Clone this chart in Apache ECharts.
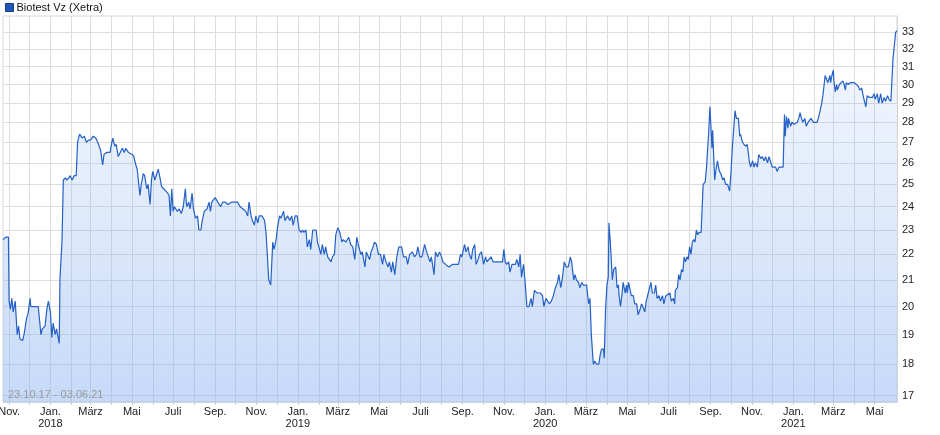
<!DOCTYPE html>
<html>
<head>
<meta charset="utf-8">
<script src="https://cdn.jsdelivr.net/npm/echarts@6/dist/echarts.min.js"></script>
<style>html,body{margin:0;padding:0;background:#fff}#c{width:940px;height:435px}</style>
</head>
<body>
<div id="c"></div>
<script>
var seriesName = 'Biotest Vz (Xetra)';
var rangeText = '23.10.17 - 03.06.21';

var dates = [
'2017-10-23','2017-10-27','2017-10-31','2017-11-01','2017-11-03','2017-11-05','2017-11-07','2017-11-10','2017-11-13','2017-11-15','2017-11-17','2017-11-21','2017-11-23','2017-11-27','2017-11-29','2017-12-02','2017-12-03','2017-12-14','2017-12-18','2017-12-20','2017-12-24','2017-12-27','2017-12-29',
'2018-01-01','2018-01-03','2018-01-05','2018-01-08','2018-01-10','2018-01-14','2018-01-15','2018-01-18','2018-01-20','2018-01-23','2018-01-25','2018-01-28','2018-01-30','2018-02-02','2018-02-05','2018-02-08','2018-02-10','2018-02-13','2018-02-15','2018-02-17','2018-02-20','2018-02-23','2018-02-26',
'2018-03-01','2018-03-05','2018-03-09','2018-03-13','2018-03-16','2018-03-19','2018-03-21','2018-03-25','2018-03-30','2018-04-01','2018-04-03','2018-04-06','2018-04-08','2018-04-11','2018-04-14','2018-04-17','2018-04-20','2018-04-22','2018-04-26','2018-04-28',
'2018-05-02','2018-05-04','2018-05-07','2018-05-09','2018-05-13','2018-05-15','2018-05-18','2018-05-20','2018-05-23','2018-05-25','2018-05-28','2018-05-30','2018-06-01','2018-06-04','2018-06-06','2018-06-09','2018-06-11','2018-06-14','2018-06-17','2018-06-20','2018-06-23','2018-06-25','2018-06-27','2018-06-29',
'2018-07-01','2018-07-03','2018-07-07','2018-07-10','2018-07-13','2018-07-16','2018-07-19','2018-07-21','2018-07-24','2018-07-26','2018-07-29','2018-07-31','2018-08-03','2018-08-06','2018-08-08','2018-08-11','2018-08-13','2018-08-16','2018-08-20','2018-08-23','2018-08-25','2018-08-27','2018-08-29',
'2018-09-01','2018-09-05','2018-09-09','2018-09-12','2018-09-16','2018-09-20','2018-09-25','2018-09-29','2018-10-04','2018-10-08','2018-10-12','2018-10-16','2018-10-19','2018-10-21','2018-10-24','2018-10-26','2018-10-29','2018-10-31',
'2018-11-03','2018-11-05','2018-11-09','2018-11-13','2018-11-15','2018-11-17','2018-11-19','2018-11-22','2018-11-25','2018-11-27','2018-11-30','2018-12-02','2018-12-05','2018-12-07','2018-12-11','2018-12-13','2018-12-17','2018-12-20','2018-12-23','2018-12-25','2018-12-28','2018-12-31',
'2019-01-03','2019-01-06','2019-01-08','2019-01-10','2019-01-13','2019-01-15','2019-01-18','2019-01-20','2019-01-23','2019-01-25','2019-01-28','2019-01-30','2019-02-01','2019-02-04','2019-02-06','2019-02-09','2019-02-11','2019-02-14','2019-02-16','2019-02-19','2019-02-21','2019-02-24','2019-02-26',
'2019-03-01','2019-03-04','2019-03-07','2019-03-09','2019-03-13','2019-03-17','2019-03-20','2019-03-23','2019-03-26','2019-03-29','2019-03-31','2019-04-04','2019-04-06','2019-04-10','2019-04-12','2019-04-15','2019-04-17','2019-04-19','2019-04-22','2019-04-24','2019-04-27','2019-04-30',
'2019-05-03','2019-05-06','2019-05-08','2019-05-11','2019-05-14','2019-05-16','2019-05-19','2019-05-21','2019-05-24','2019-05-27','2019-05-30','2019-06-03','2019-06-06','2019-06-10','2019-06-12','2019-06-15','2019-06-19','2019-06-22','2019-06-25','2019-06-27','2019-06-30',
'2019-07-03','2019-07-04','2019-07-07','2019-07-10','2019-07-12','2019-07-15','2019-07-17','2019-07-21','2019-07-23','2019-07-26','2019-07-29','2019-08-01','2019-08-03','2019-08-07','2019-08-12','2019-08-17','2019-08-22','2019-08-26','2019-08-29','2019-08-31',
'2019-09-04','2019-09-06','2019-09-09','2019-09-11','2019-09-14','2019-09-16','2019-09-19','2019-09-21','2019-09-24','2019-09-26','2019-09-29','2019-10-02','2019-10-05','2019-10-07','2019-10-09','2019-10-13','2019-10-16','2019-10-19','2019-10-23','2019-10-27','2019-10-30',
'2019-11-01','2019-11-03','2019-11-05','2019-11-08','2019-11-10','2019-11-13','2019-11-15','2019-11-18','2019-11-20','2019-11-23','2019-11-25','2019-11-27','2019-11-30','2019-12-02','2019-12-05','2019-12-08','2019-12-11','2019-12-13','2019-12-16','2019-12-20','2019-12-25','2019-12-28','2019-12-30',
'2020-01-02','2020-01-04','2020-01-07','2020-01-10','2020-01-13','2020-01-16','2020-01-19','2020-01-21','2020-01-24','2020-01-27','2020-01-29','2020-02-01','2020-02-04','2020-02-07','2020-02-09','2020-02-12','2020-02-14','2020-02-16','2020-02-19','2020-02-21','2020-02-24','2020-02-26',
'2020-03-02','2020-03-05','2020-03-07','2020-03-09','2020-03-12','2020-03-14','2020-03-17','2020-03-20','2020-03-22','2020-03-24','2020-03-27','2020-03-28','2020-03-30','2020-04-01','2020-04-03','2020-04-04','2020-04-06','2020-04-09','2020-04-11','2020-04-14','2020-04-16','2020-04-18','2020-04-19','2020-04-21','2020-04-23','2020-04-25','2020-04-28','2020-04-30',
'2020-05-01','2020-05-03','2020-05-05','2020-05-07','2020-05-10','2020-05-12','2020-05-15','2020-05-17','2020-05-20','2020-05-22','2020-05-24','2020-05-27','2020-05-29','2020-06-01','2020-06-03','2020-06-05','2020-06-07','2020-06-10','2020-06-12','2020-06-14','2020-06-17','2020-06-19','2020-06-22','2020-06-24','2020-06-27','2020-06-29',
'2020-07-03','2020-07-05','2020-07-08','2020-07-10','2020-07-11','2020-07-14','2020-07-16','2020-07-18','2020-07-20','2020-07-22','2020-07-24','2020-07-26','2020-07-28','2020-07-30','2020-08-01','2020-08-03','2020-08-05','2020-08-07','2020-08-09','2020-08-11','2020-08-13','2020-08-15','2020-08-18','2020-08-20','2020-08-21','2020-08-24','2020-08-26','2020-08-29','2020-08-31',
'2020-09-01','2020-09-03','2020-09-04','2020-09-07','2020-09-09','2020-09-11','2020-09-14','2020-09-16','2020-09-19','2020-09-21','2020-09-23','2020-09-26','2020-09-28','2020-09-29','2020-10-01','2020-10-03','2020-10-07','2020-10-09','2020-10-12','2020-10-14','2020-10-15','2020-10-18','2020-10-20','2020-10-23','2020-10-25','2020-10-28','2020-10-30',
'2020-11-02','2020-11-04','2020-11-06','2020-11-09','2020-11-11','2020-11-14','2020-11-16','2020-11-19','2020-11-21','2020-11-24','2020-11-26','2020-11-28','2020-12-01','2020-12-03','2020-12-06','2020-12-08','2020-12-11','2020-12-14','2020-12-17','2020-12-19','2020-12-20','2020-12-22','2020-12-24','2020-12-25','2020-12-28','2020-12-30',
'2021-01-02','2021-01-04','2021-01-07','2021-01-09','2021-01-11','2021-01-13','2021-01-15','2021-01-18','2021-01-20','2021-01-23','2021-01-25','2021-01-27','2021-01-31','2021-02-02','2021-02-05','2021-02-07','2021-02-09','2021-02-12','2021-02-14','2021-02-16','2021-02-17','2021-02-19','2021-02-21','2021-02-24','2021-02-25','2021-02-27',
'2021-03-01','2021-03-02','2021-03-04','2021-03-06','2021-03-07','2021-03-10','2021-03-12','2021-03-15','2021-03-17','2021-03-19','2021-03-20','2021-03-23','2021-03-26','2021-03-28','2021-04-01','2021-04-04','2021-04-07','2021-04-09','2021-04-12','2021-04-14','2021-04-16','2021-04-18','2021-04-20','2021-04-23','2021-04-25','2021-04-28','2021-04-30',
'2021-05-02','2021-05-05','2021-05-07','2021-05-10','2021-05-12','2021-05-15','2021-05-17','2021-05-20','2021-05-22','2021-05-25','2021-05-28','2021-06-01','2021-06-03'
];

var prices = [
22.6,22.7,22.7,20.2,19.9,20.3,19.8,20.2,19.0,19.3,18.85,18.8,19.0,19.6,19.75,20.3,20.0,20.0,19.0,19.2,19.3,19.95,20.2,
19.8,18.9,19.4,19.0,19.2,18.7,21.0,22.5,25.2,25.3,25.2,25.3,25.4,25.2,25.4,25.4,27.0,27.4,27.5,27.2,27.3,27.0,27.1,
27.1,27.3,27.2,26.9,26.6,25.9,26.4,26.5,26.5,26.9,27.2,26.8,26.9,26.3,26.5,26.7,26.5,26.7,26.5,26.5,
26.4,26.3,25.9,25.7,24.5,25.0,25.5,25.4,24.8,25.0,24.1,25.2,25.6,25.2,25.2,25.7,25.4,24.9,24.8,24.7,24.6,24.5,23.6,24.8,
23.8,24.0,23.8,23.9,23.7,24.0,24.8,24.0,24.2,23.9,24.6,23.9,23.5,23.6,23.0,23.0,23.4,23.8,23.9,24.2,23.8,24.2,24.2,
24.4,24.2,24.0,24.2,24.2,24.1,24.2,24.2,24.2,24.0,23.9,23.8,23.6,24.2,23.6,23.4,23.2,23.6,
23.3,23.6,23.6,23.4,22.9,22.0,21.0,20.8,22.5,22.2,22.6,23.1,23.6,23.5,23.8,23.4,23.6,23.4,23.6,23.2,23.6,23.6,
23.0,22.9,23.0,22.9,23.0,22.3,22.6,22.2,23.0,23.0,23.0,22.5,22.3,22.0,22.4,22.0,22.3,21.9,21.9,21.7,21.9,22.0,22.8,
23.1,22.9,22.5,22.6,22.5,22.7,22.4,22.3,21.8,22.7,22.4,22.0,22.1,21.5,22.1,21.9,21.8,22.1,22.3,22.5,22.4,22.0,
22.0,21.6,22.0,21.7,21.5,21.7,21.3,21.7,21.2,21.9,22.3,22.3,21.9,21.9,21.6,22.0,22.1,21.9,22.0,22.3,21.9,
21.9,22.0,22.4,22.1,22.1,21.7,21.9,21.2,22.1,21.9,22.1,21.9,21.7,21.6,21.5,21.6,21.6,21.6,22.0,21.9,
22.4,22.1,22.3,22.0,21.8,22.2,22.4,21.6,21.8,22.0,22.1,21.6,21.9,21.7,21.7,21.9,21.7,21.7,21.7,21.7,21.7,
22.2,21.7,21.6,21.7,21.3,21.6,21.6,21.6,21.8,21.5,22.0,21.1,21.6,21.0,20.0,20.0,20.3,20.0,20.6,20.5,20.5,20.4,20.0,
20.3,20.3,20.1,20.2,20.4,20.7,20.9,21.2,20.7,21.2,21.7,21.5,21.5,21.9,21.7,21.0,21.2,21.0,20.9,20.7,20.9,20.8,
20.8,20.1,20.3,19.0,18.0,18.1,18.0,18.0,18.3,18.5,18.5,18.2,19.9,20.8,21.1,23.3,22.5,21.0,21.4,21.5,20.7,20.8,20.4,20.0,20.4,20.9,20.5,20.8,
20.5,20.9,20.9,20.4,20.4,20.1,20.1,19.7,19.9,20.1,20.0,19.8,20.2,20.5,20.7,20.9,20.5,20.5,20.8,20.3,20.4,20.2,20.4,20.1,20.4,20.4,
20.5,20.2,20.3,20.1,20.6,20.7,21.2,21.0,21.4,21.3,21.9,21.7,21.9,21.8,22.3,22.0,22.5,22.6,22.5,23.0,22.8,22.9,22.9,22.9,25.0,25.1,25.8,27.4,28.8,
28.1,26.7,27.6,25.2,25.7,26.1,25.6,25.5,25.2,25.3,25.0,25.0,25.0,24.7,25.5,26.7,28.6,28.2,28.2,27.3,27.4,27.0,26.9,26.8,26.9,26.1,25.8,
26.1,25.8,26.0,25.8,26.4,26.2,26.3,26.1,26.3,26.0,26.3,26.1,25.8,25.8,25.8,25.6,25.8,25.8,25.8,28.4,27.3,28.3,27.7,28.2,27.8,28.0,
27.9,28.0,28.0,28.2,28.5,28.2,28.0,28.2,27.8,28.0,28.0,28.2,28.0,28.0,28.0,28.2,28.2,29.0,29.5,29.6,30.5,30.4,30.1,30.5,30.1,30.5,
30.8,30.2,29.6,30.0,29.7,30.0,30.0,30.2,30.0,29.7,30.1,30.0,30.1,30.0,30.1,30.0,29.9,29.7,29.8,29.4,29.3,28.8,29.4,29.3,29.4,29.3,29.5,
29.2,29.5,29.0,29.5,29.0,29.3,29.1,29.4,29.2,29.1,31.4,33.0,33.1
];

var yTickValues = [17,18,19,20,21,22,23,24,25,26,27,28,29,30,31,32,33];
var xLabelMonths = ['2017-11-01','2018-01-01','2018-03-01','2018-05-01','2018-07-01','2018-09-01','2018-11-01',
  '2019-01-01','2019-03-01','2019-05-01','2019-07-01','2019-09-01','2019-11-01',
  '2020-01-01','2020-03-01','2020-05-01','2020-07-01','2020-09-01','2020-11-01',
  '2021-01-01','2021-03-01','2021-05-01'];
var xGridMonths = ['2017-11-01','2017-12-01','2018-01-01','2018-02-01','2018-03-01','2018-04-01','2018-05-01','2018-06-01','2018-07-01','2018-08-01','2018-09-01','2018-10-01','2018-11-01','2018-12-01',
  '2019-01-01','2019-02-01','2019-03-01','2019-04-01','2019-05-01','2019-06-01','2019-07-01','2019-08-01','2019-09-01','2019-10-01','2019-11-01','2019-12-01',
  '2020-01-01','2020-02-01','2020-03-01','2020-04-01','2020-05-01','2020-06-01','2020-07-01','2020-08-01','2020-09-01','2020-10-01','2020-11-01','2020-12-01',
  '2021-01-01','2021-02-01','2021-03-01','2021-04-01','2021-05-01'];
var monthNames = ['Jan.','Feb.','März','Apr.','Mai','Juni','Juli','Aug.','Sep.','Okt.','Nov.','Dez.'];

function toTime(s) { var p = s.split('-'); return new Date(+p[0], +p[1] - 1, +p[2]).getTime(); }

var points = dates.map(function (d, i) { return [toTime(d), prices[i]]; });

var chart = echarts.init(document.getElementById('c'), null, { renderer: 'canvas' });
var font = 'Liberation Sans, Arial, sans-serif';
chart.setOption({
  animation: false,
  backgroundColor: '#fff',
  textStyle: { fontFamily: font },
  title: {
    text: rangeText, left: 8, top: 389, padding: 0,
    textStyle: { fontSize: 11, fontWeight: 'normal', color: '#9a9a9a', fontFamily: font }
  },
  legend: {
    left: 5, top: 2, padding: 0, itemWidth: 8, itemHeight: 8, icon: 'rect',
    data: [{ name: seriesName, itemStyle: { color: '#1f56b8', borderColor: '#173f86', borderWidth: 1 } }],
    textStyle: { fontSize: 11, color: '#111', fontFamily: font, padding: [0, 0, 0, -2] }
  },
  grid: { left: 3, right: 43, top: 16, bottom: 33, containLabel: false, outerBoundsMode: 'none',
    show: true, borderColor: '#d8d8d8', borderWidth: 1 },
  xAxis: {
    type: 'value', scale: true,
    min: toTime('2017-10-23'), max: toTime('2021-06-03'),
    axisLine: { show: true, lineStyle: { color: '#cfd6e2' } },
    axisTick: { show: true, length: 3, customValues: xGridMonths.map(toTime), lineStyle: { color: '#cccccc' } },
    axisLabel: {
      customValues: xLabelMonths.map(toTime), fontSize: 11, color: '#222', margin: 4, lineHeight: 12,
      fontFamily: font, hideOverlap: false,
      formatter: function (v) {
        var d = new Date(v); var m = d.getMonth();
        return m === 0 ? monthNames[m] + '\n' + d.getFullYear() : monthNames[m];
      }
    },
    splitLine: { show: true, lineStyle: { color: '#dddddd', width: 1 } }
  },
  yAxis: {
    type: 'log', position: 'right', min: 16.8, max: 34,
    axisLine: { show: true, lineStyle: { color: '#d0d6e0' } },
    axisTick: { show: false, customValues: yTickValues },
    axisLabel: { customValues: yTickValues, fontSize: 11, color: '#222', margin: 5, fontFamily: font, formatter: function (v) { return String(Math.round(v)); } },
    splitLine: { show: true, lineStyle: { color: '#dddddd', width: 1 } }
  },
  series: [{
    name: seriesName, type: 'line', data: points, showSymbol: false, symbol: 'none',
    lineStyle: { color: '#2461c6', width: 1.2 },
    itemStyle: { color: '#1f56b8' },
    areaStyle: {
      origin: 'start',
      color: new echarts.graphic.LinearGradient(0, 0, 0, 1, [
        { offset: 0, color: 'rgba(135,176,240,0.12)' },
        { offset: 0.5, color: 'rgba(135,176,240,0.38)' },
        { offset: 1, color: 'rgba(135,176,240,0.68)' }
      ])
    }
  }]
});
</script>
</body>
</html>
